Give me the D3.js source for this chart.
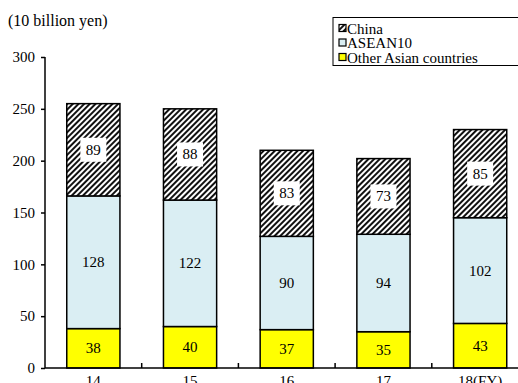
<!DOCTYPE html>
<html>
<head>
<meta charset="utf-8">
<script src="https://cdn.jsdelivr.net/npm/d3@7"></script>
<style>
  html, body { margin: 0; padding: 0; background: #fff; }
  svg { display: block; }
  svg text { font-family: "Liberation Serif", "Times New Roman", Times, serif !important; fill: #000; }
</style>
</head>
<body>
<svg id="chart" width="518" height="383"></svg>
<script>
// Fiscal years on the x axis
const years = ["14", "15", "16", "17", "18(FY)"];
// Values in units of 10 billion yen, stacked bottom to top
const otherAsia = [38, 40, 37, 35, 43];
const asean10 = [128, 122, 90, 94, 102];
const china = [89, 88, 83, 73, 85];
const yTicks = [0, 50, 100, 150, 200, 250, 300];
const seriesNames = ["China", "ASEAN10", "Other Asian countries"];

const svg = d3.select("#chart");

// Diagonal hatch used for the China segment
const defs = svg.append("defs");
const pat = defs.append("pattern")
  .attr("id", "hatch")
  .attr("patternUnits", "userSpaceOnUse")
  .attr("width", 4).attr("height", 4)
  .attr("patternTransform", "rotate(45)");
pat.append("rect").attr("width", 4).attr("height", 4).attr("fill", "#fff");
pat.append("rect").attr("x", 0).attr("width", 2).attr("height", 4).attr("fill", "#111");

const plotLeft = 45, plotBottom = 368, plotTop = 57;
const step = 96.7;
const plotRight = plotLeft + step * years.length;

const x = d3.scaleBand()
  .domain(years)
  .range([plotLeft, plotRight])
  .paddingInner(0.45)
  .paddingOuter(0.225);

const y = d3.scaleLinear().domain([0, 300]).range([plotBottom, plotTop]);

const rows = years.map((yr, i) => ({
  year: yr, other: otherAsia[i], asean: asean10[i], china: china[i]
}));
const stack = d3.stack().keys(["other", "asean", "china"])(rows);

const fills = { other: "#ffff00", asean: "#daeef3", china: "url(#hatch)" };

// Bars
stack.forEach(layer => {
  svg.append("g").selectAll("rect")
    .data(layer)
    .join("rect")
    .attr("x", d => x(d.data.year))
    .attr("width", x.bandwidth())
    .attr("y", d => y(d[1]))
    .attr("height", d => y(d[0]) - y(d[1]))
    .attr("fill", fills[layer.key])
    .attr("stroke", "#000")
    .attr("stroke-width", 1.5);
});

// Value labels
stack.forEach(layer => {
  const g = svg.append("g");
  layer.forEach(d => {
    const cx = x(d.data.year) + x.bandwidth() / 2;
    const cy = (y(d[0]) + y(d[1])) / 2;
    if (layer.key === "china") {
      g.append("rect")
        .attr("x", cx - 13).attr("y", cy - 12)
        .attr("width", 26).attr("height", 24)
        .attr("fill", "#fff");
    }
    g.append("text")
      .attr("x", cx).attr("y", cy)
      .attr("text-anchor", "middle")
      .attr("dominant-baseline", "central")
      .attr("font-size", 15)
      .text(d.data[layer.key]);
  });
});

// Y axis
const yAxis = d3.axisLeft(y).tickValues(yTicks).tickSize(4).tickPadding(6);
const gy = svg.append("g").attr("transform", `translate(${plotLeft},0)`).call(yAxis);
gy.select(".domain").attr("stroke", "#000").attr("stroke-width", 1.5)
  .attr("d", `M0,${plotTop}V${plotBottom}`);
gy.selectAll(".tick line").attr("stroke", "#000").attr("stroke-width", 1.5);
gy.selectAll(".tick text").attr("font-size", 15);

// X axis with boundary ticks between categories
svg.append("line")
  .attr("x1", plotLeft).attr("x2", plotRight)
  .attr("y1", plotBottom).attr("y2", plotBottom)
  .attr("stroke", "#000").attr("stroke-width", 1.5);
const boundary = d => x(d) - x.step() * x.paddingInner() / 2;
svg.append("g").selectAll("line")
  .data(years.slice(1))
  .join("line")
  .attr("x1", boundary).attr("x2", boundary)
  .attr("y1", plotBottom).attr("y2", plotBottom - 5)
  .attr("stroke", "#000").attr("stroke-width", 1.5);
svg.append("g").selectAll("text")
  .data(years)
  .join("text")
  .attr("x", d => x(d) + x.bandwidth() / 2)
  .attr("y", plotBottom + 18)
  .attr("text-anchor", "middle")
  .attr("font-size", 15)
  .text(d => d);

// Unit label
svg.append("text")
  .attr("x", 8).attr("y", 26)
  .attr("font-size", 16)
  .text("(10 billion yen)");

// Legend
const lg = svg.append("g");
lg.append("rect")
  .attr("x", 333).attr("y", 17.5)
  .attr("width", 200).attr("height", 48)
  .attr("fill", "#fff").attr("stroke", "#000").attr("stroke-width", 1);
const legendFill = ["url(#hatch)", "#daeef3", "#ffff00"];
seriesNames.forEach((name, i) => {
  const ly = 28.5 + i * 14.5;
  lg.append("rect")
    .attr("x", 339).attr("y", ly - 4)
    .attr("width", 7).attr("height", 7)
    .attr("fill", legendFill[i]).attr("stroke", "#000").attr("stroke-width", 1.2);
  lg.append("text")
    .attr("x", 347).attr("y", ly)
    .attr("dominant-baseline", "central")
    .attr("font-size", 15)
    .text(name);
});
</script>
</body>
</html>
